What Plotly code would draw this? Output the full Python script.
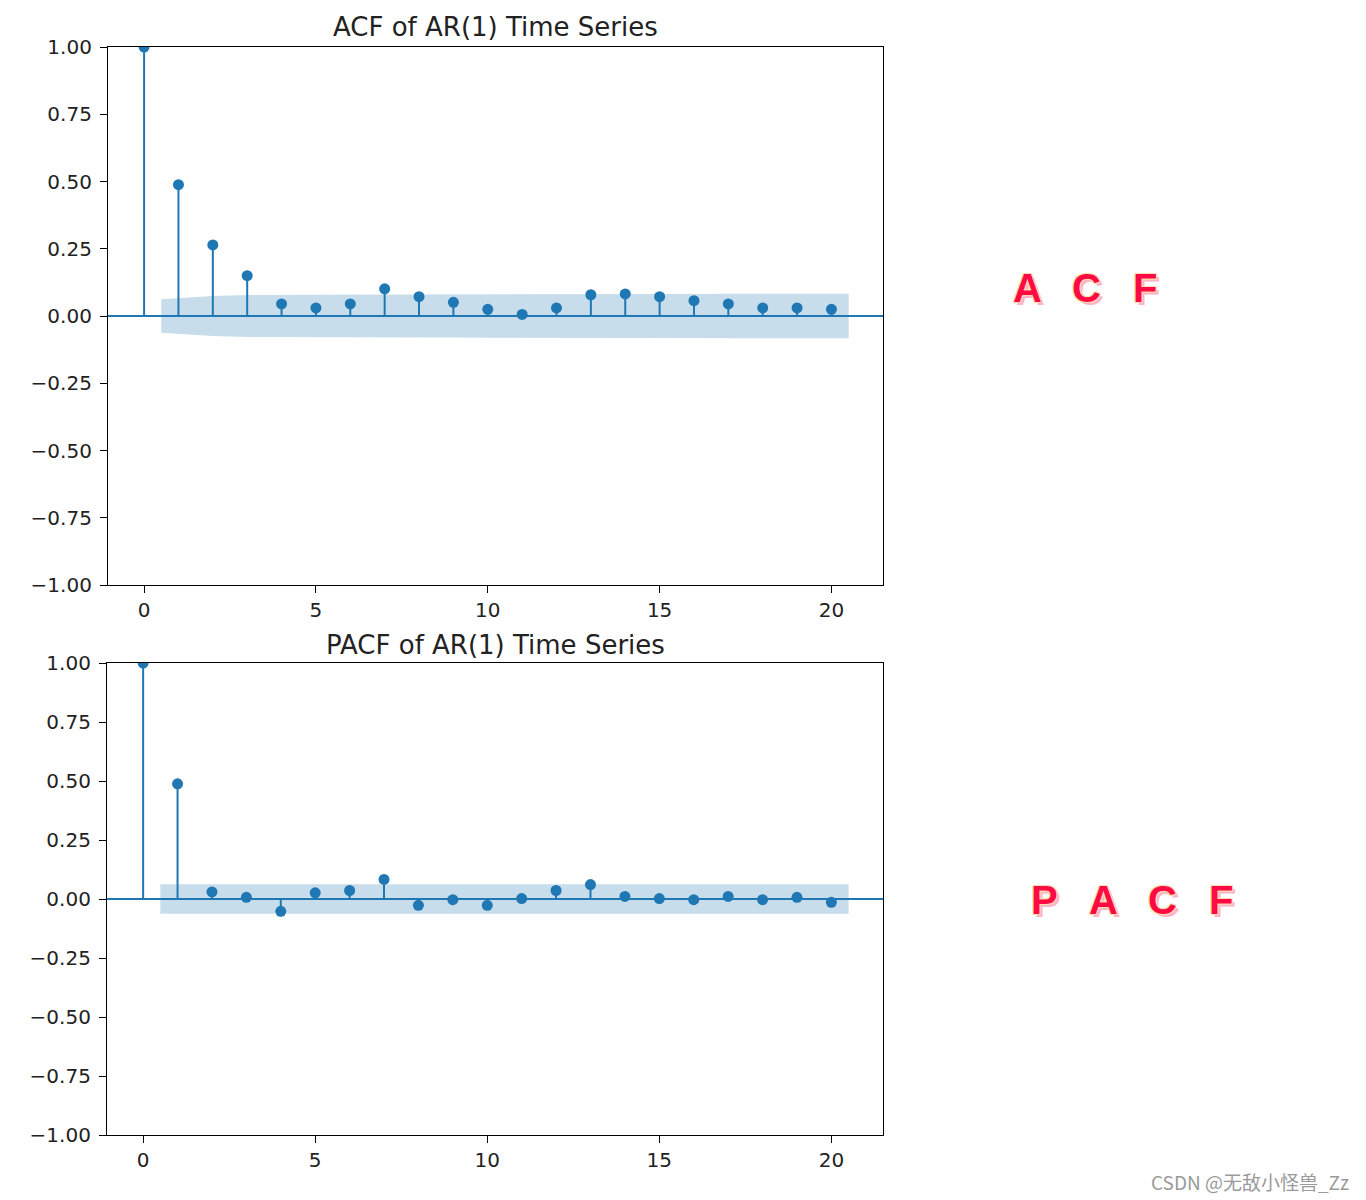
import plotly.graph_objects as go

BLUE = "#1f77b4"
BAND = "rgba(31,119,180,0.25)"

lags = list(range(21))

acf_vals = [1.0, 0.488, 0.264, 0.150, 0.045, 0.030, 0.045, 0.101, 0.072, 0.051,
            0.025, 0.006, 0.030, 0.079, 0.082, 0.072, 0.057, 0.045, 0.030, 0.030, 0.025]
acf_conf = [0.062, 0.074, 0.078, 0.079, 0.079, 0.079, 0.080, 0.080, 0.080, 0.081,
            0.081, 0.081, 0.081, 0.082, 0.082, 0.082, 0.083, 0.083, 0.083, 0.083]

pacf_vals = [1.0, 0.488, 0.030, 0.007, -0.052, 0.026, 0.036, 0.083, -0.027, -0.003,
             -0.027, 0.002, 0.036, 0.061, 0.011, 0.002, -0.003, 0.011, -0.003, 0.007, -0.014]
pacf_conf = [0.062] * 20

titles = ["ACF of AR(1) Time Series", "PACF of AR(1) Time Series"]
xticks = [0, 5, 10, 15, 20]
yticks = [-1.0, -0.75, -0.5, -0.25, 0.0, 0.25, 0.5, 0.75, 1.0]

FONT = "DejaVu Sans"
W, H = 1366, 1200
OFF = 8  # page body margin


def px(x):
    return (x - OFF) / W


def py(y):
    return 1 - (y - OFF) / H


fig = go.Figure()


def add_panel(vals, conf, xa, ya):
    # confidence band, lags 1..N with half-lag padding at the ends
    bx = [float(k) for k in lags[1:]]
    bx[0] -= 0.5
    bx[-1] += 0.5
    fig.add_trace(go.Scatter(
        x=bx + bx[::-1], y=conf + [-c for c in conf[::-1]],
        fill="toself", fillcolor=BAND, line=dict(width=0), mode="lines",
        hoverinfo="skip", xaxis=xa, yaxis=ya, showlegend=False))
    sx, sy = [], []
    for k, v in zip(lags, vals):
        sx += [k, k, None]
        sy += [0, v, None]
    fig.add_trace(go.Scatter(x=sx, y=sy, mode="lines",
                             line=dict(color=BLUE, width=2),
                             xaxis=xa, yaxis=ya, showlegend=False))
    fig.add_trace(go.Scatter(x=lags, y=vals, mode="markers",
                             marker=dict(color=BLUE, size=11),
                             xaxis=xa, yaxis=ya, showlegend=False))


add_panel(acf_vals, acf_conf, "x", "y")
add_panel(pacf_vals, pacf_conf, "x2", "y2")

axis_common = dict(showline=True, mirror=True, linecolor="black", linewidth=1.2,
                   ticks="outside", ticklen=7, tickcolor="black", showgrid=False,
                   zeroline=False, automargin=False,
                   tickfont=dict(family=FONT, size=20, color="#222222"))

fig.update_layout(
    width=W, height=H, margin=dict(l=0, r=0, t=0, b=0, autoexpand=False),
    plot_bgcolor="white", paper_bgcolor="white",
    xaxis=dict(domain=[px(108), px(883)], anchor="y", range=[-1.05, 21.5],
               tickvals=xticks, **axis_common),
    yaxis=dict(domain=[py(585), py(47)], anchor="x", range=[-1, 1],
               tickvals=yticks, tickformat=".2f", ticklabelstandoff=4, **axis_common),
    xaxis2=dict(domain=[px(107), px(883)], anchor="y2", range=[-1.05, 21.5],
                tickvals=xticks, **axis_common),
    yaxis2=dict(domain=[py(1135), py(663)], anchor="x2", range=[-1, 1],
                tickvals=yticks, tickformat=".2f", ticklabelstandoff=4, **axis_common),
)

# zero lines across the full axes
for xr, yr in [("x domain", "y"), ("x2 domain", "y2")]:
    fig.add_shape(type="line", xref=xr, yref=yr, x0=0, x1=1, y0=0, y1=0,
                  line=dict(color=BLUE, width=2))

# titles
fig.add_annotation(text=titles[0], x=px(495.5), y=py(27), xref="paper", yref="paper",
                   xanchor="center", yanchor="middle", showarrow=False,
                   font=dict(family=FONT, size=26, color="#222222"))
fig.add_annotation(text=titles[1], x=px(495), y=py(645), xref="paper", yref="paper",
                   xanchor="center", yanchor="middle", showarrow=False,
                   font=dict(family=FONT, size=26, color="#222222"))

# side labels
shadow = "1px 1px 0 #f6dcae, -1px -1px 0 #f6dcae, 1px -1px 0 #f6dcae, -1px 1px 0 #f6dcae, 3px 3px 0 #ffb3c6"
for i, ch in enumerate(["A", "C", "F"]):
    fig.add_annotation(text="<b>%s</b>" % ch, x=px(1027 + 59 * i), y=py(288),
                       xref="paper", yref="paper", xanchor="center", yanchor="middle",
                       showarrow=False,
                       font=dict(family="Liberation Sans", size=40, color="#ff0a45", shadow=shadow))
for i, ch in enumerate(["P", "A", "C", "F"]):
    fig.add_annotation(text="<b>%s</b>" % ch, x=px(1044 + 59 * i), y=py(900),
                       xref="paper", yref="paper", xanchor="center", yanchor="middle",
                       showarrow=False,
                       font=dict(family="Liberation Sans", size=40, color="#ff0a45", shadow=shadow))

# watermark
fig.add_annotation(text="CSDN @无敌小怪兽_Zz", x=px(1351), y=py(1181), xref="paper", yref="paper",
                   xanchor="right", yanchor="middle", showarrow=False,
                   font=dict(family="Noto Sans CJK SC", size=19, color="#9a9a9a"))

fig.write_html("out.html")
